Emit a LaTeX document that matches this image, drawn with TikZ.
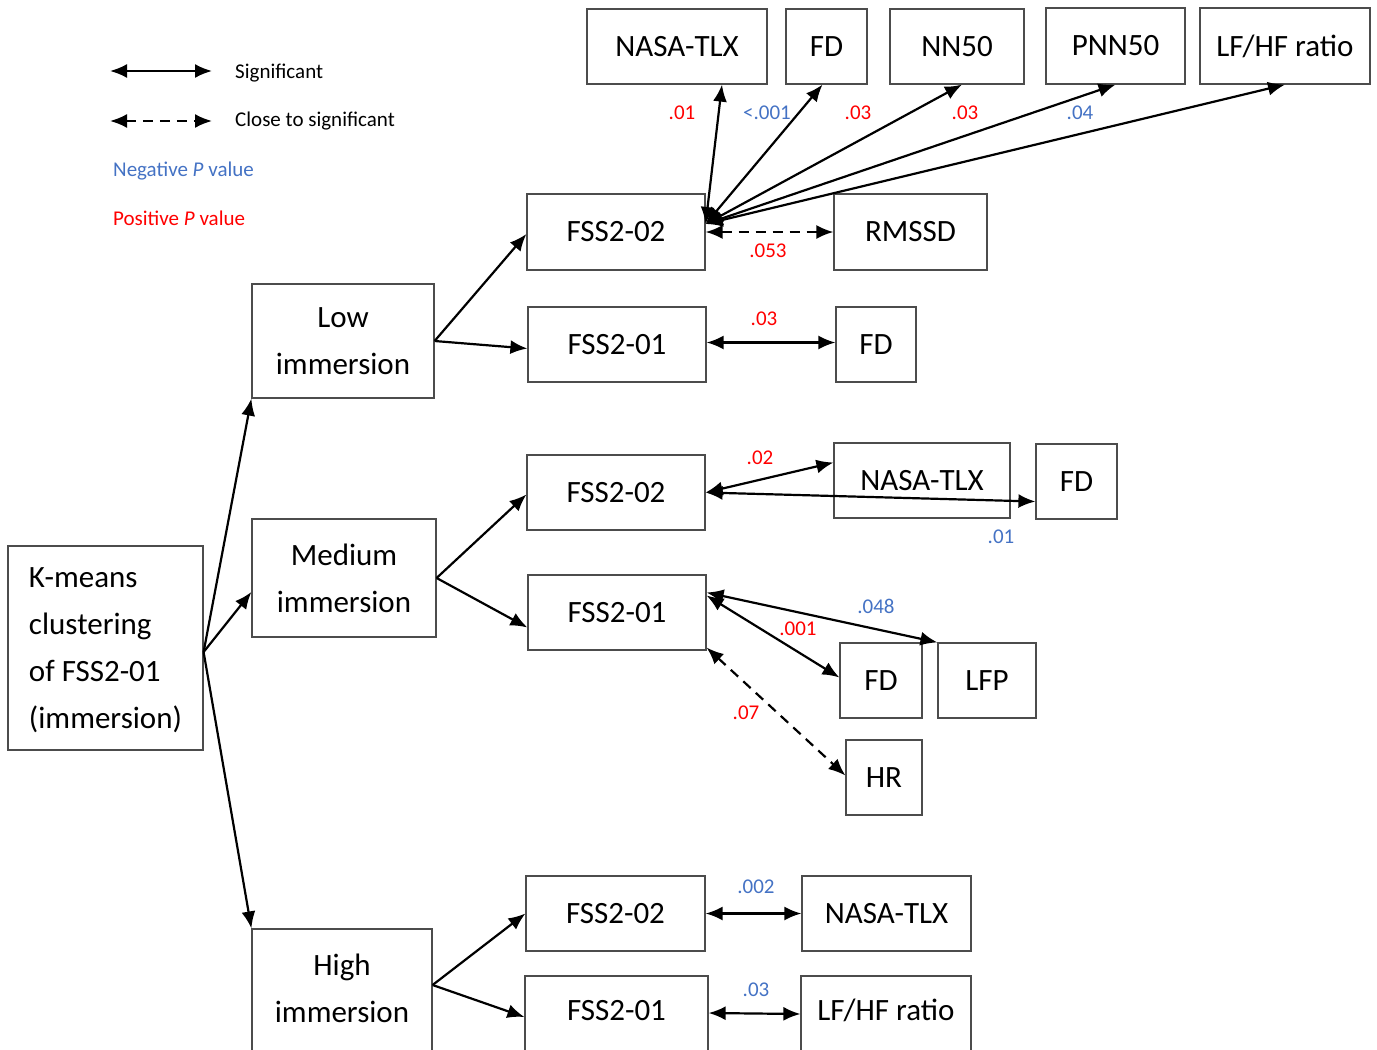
\documentclass[tikz,border=0pt]{standalone}
\usepackage{fontspec}
\setmainfont{Carlito}
\usetikzlibrary{arrows.meta}
\definecolor{negblue}{HTML}{4472C4}
\definecolor{posred}{HTML}{FF0000}
\tikzset{
  box/.style={draw=black!70, line width=1.2pt, inner sep=0pt, font=\fontsize{31}{47}\selectfont, align=center},
  arr/.style={-{Latex[length=17pt,width=14pt]}, line width=2.2pt},
  sig/.style={{Latex[length=17pt,width=14pt]}-{Latex[length=17pt,width=14pt]}, line width=2.2pt},
  close/.style={sig, dash pattern=on 10pt off 7pt},
  lab/.style={font=\fontsize{21}{25}\selectfont, inner sep=0pt},
  negp/.style={lab, text=negblue},
  posp/.style={lab, text=posred},
  legtext/.style={lab, anchor=west}
}
\begin{document}
\begin{tikzpicture}[x=1pt,y=-1pt]
\useasboundingbox (0,0) rectangle (1377,1050);
% legend
\coordinate (la1) at (110,71); \coordinate (la2) at (212,71);
\draw[sig] (la1) -- (la2);
\node[legtext] (lt1) at (235,73) {Significant};
\coordinate (lb1) at (110,121); \coordinate (lb2) at (212,121);
\draw[close] (lb1) -- (lb2);
\node[legtext] (lt2) at (235,121) {Close to significant};
\node[legtext, text=negblue] (lt3) at (113,171) {Negative \textit{P} value};
\node[legtext, text=posred] (lt4) at (113,218) {Positive \textit{P} value};
% main nodes
\node[box, minimum width=195, minimum height=204, align=left, text depth=0pt] (km) at (105.5,648) {K-means\\clustering\\of FSS2-01\\(immersion)};
\node[box, minimum width=182, minimum height=114] (low) at (343,341) {Low\\immersion};
\node[box, minimum width=184, minimum height=118] (med) at (344,578) {Medium\\immersion};
\node[box, minimum width=180, minimum height=130, text depth=12pt] (high) at (342,994) {High\\immersion};
% low branch
\node[box, minimum width=178, minimum height=76] (l2) at (616,232) {FSS2-02};
\node[box, minimum width=153, minimum height=76] (rmssd) at (910.5,232) {RMSSD};
\node[box, minimum width=178, minimum height=75] (l1) at (617,344.5) {FSS2-01};
\node[box, minimum width=80, minimum height=75] (lfd) at (876,344.5) {FD};
\node[box, minimum width=180, minimum height=75] (t1) at (677,46.5) {NASA-TLX};
\node[box, minimum width=81, minimum height=75] (t2) at (826.5,46.5) {FD};
\node[box, minimum width=134, minimum height=75] (t3) at (957,46.5) {NN50};
\node[box, minimum width=139, minimum height=76] (t4) at (1115.5,46) {PNN50};
\node[box, minimum width=170, minimum height=76] (t5) at (1285,46) {LF/HF ratio};
% medium branch
\node[box, minimum width=178, minimum height=75] (m2) at (616,492.5) {FSS2-02};
\node[box, minimum width=176, minimum height=75] (mnasa) at (922,480.5) {NASA-TLX};
\node[box, minimum width=81, minimum height=75] (mfd) at (1076.5,481.5) {FD};
\node[box, minimum width=178, minimum height=75] (m1) at (617,612.5) {FSS2-01};
\node[box, minimum width=82, minimum height=75] (mfd2) at (881,680.5) {FD};
\node[box, minimum width=98, minimum height=75] (lfp) at (987,680.5) {LFP};
\node[box, minimum width=76, minimum height=75] (hr) at (884,777.5) {HR};
% high branch
\node[box, minimum width=179, minimum height=75] (h2) at (615.5,913.5) {FSS2-02};
\node[box, minimum width=169, minimum height=75] (hnasa) at (886.5,913.5) {NASA-TLX};
\node[box, minimum width=183, minimum height=88, text depth=20pt] (h1) at (616.5,1020) {FSS2-01};
\node[box, minimum width=170, minimum height=88, text depth=20pt] (hlf) at (886,1020) {LF/HF ratio};
% tree arrows
\coordinate (ks) at ([yshift=-4pt]km.east);
\draw[arr] (ks) -- (low.south west);
\draw[arr] (ks) -- ([yshift=-14pt]med.west);
\draw[arr] (ks) -- (high.north west);
\draw[arr] (low.east) -- ([yshift=-2pt]l2.west);
\draw[arr] (low.east) -- ([yshift=-4pt]l1.west);
\draw[arr] (med.east) -- ([yshift=-2pt]m2.west);
\draw[arr] (med.east) -- ([yshift=-15pt]m1.west);
\draw[arr] ([yshift=9pt]high.east) -- (h2.west);
\draw[arr] ([yshift=9pt]high.east) -- ([yshift=3pt]h1.west);
% low relations
\coordinate (fan) at ([yshift=8pt]l2.east);
\draw[sig] (fan) -- ([xshift=45pt]t1.south);
\draw[sig] (fan) -- ([xshift=-4pt]t2.south);
\draw[sig] (fan) -- ([xshift=5pt]t3.south);
\draw[sig] (fan) -- (t4.south);
\draw[sig] (fan) -- (t5.south);
\draw[close] (l2.east) -- (rmssd.west);
\draw[sig] ([yshift=2pt]l1.east) -- ([yshift=2pt]lfd.west);
% medium relations
\draw[sig] (m2.east) -- ([yshift=18pt]mnasa.west);
\draw[sig] (m2.east) -- ([yshift=-20pt]mfd.west);
\draw[sig] ([yshift=20pt]m1.east) -- (lfp.north west);
\draw[sig] ([yshift=17pt]m1.east) -- ([yshift=3pt]mfd2.west);
\draw[close] ([yshift=-35pt]m1.east) -- ([yshift=2pt]hr.west);
% high relations
\draw[sig] (h2.east) -- (hnasa.west);
\draw[sig] ([yshift=7pt]h1.east) -- ([yshift=6pt]hlf.west);
% p values
\node[posp] (p1) at (682,113) {.01};
\node[negp] (p2) at (767,113) {<.001};
\node[posp] (p3) at (858,113) {.03};
\node[posp] (p4) at (965,113) {.03};
\node[negp] (p5) at (1080,113) {.04};
\node[posp] (p6) at (768,251) {.053};
\node[posp] (p7) at (764,319) {.03};
\node[posp] (p8) at (760,458) {.02};
\node[negp] (p9) at (1001,537) {.01};
\node[negp] (p10) at (876,606) {.048};
\node[posp] (p11) at (798,629) {.001};
\node[posp] (p12) at (746,713) {.07};
\node[negp] (p13) at (756,887) {.002};
\node[negp] (p14) at (756,990) {.03};
\end{tikzpicture}
\end{document}
